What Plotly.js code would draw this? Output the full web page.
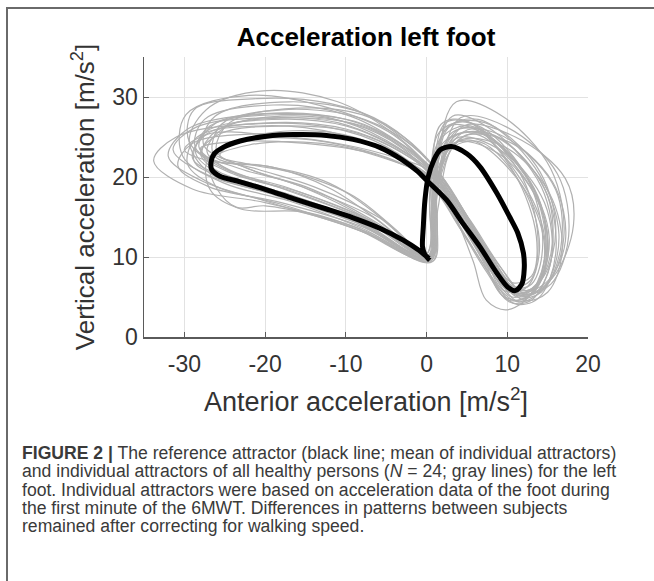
<!DOCTYPE html>
<html>
<head>
<meta charset="utf-8">
<script src="https://cdn.plot.ly/plotly-3.0.1.min.js"></script>
<style>
  html, body { margin: 0; padding: 0; background: #fff; }
  #wrap { position: relative; width: 654px; height: 581px; overflow: hidden; }
  #chart { position: absolute; left: 0; top: 0; width: 654px; height: 581px; }
  #frame { position: absolute; left: 6px; top: 7px; width: 660px; height: 590px;
           border-left: 2px solid #6a6a6a; border-top: 2px solid #6a6a6a; pointer-events: none; }
  #caption { position: absolute; left: 22px; top: 444px; width: 625px;
             font-family: 'Liberation Sans', Arial, Helvetica, sans-serif; font-size: 17.6px;
             line-height: 18.3px; color: #3a3a3a; white-space: nowrap; }
  #caption div { height: 18.3px; }
</style>
</head>
<body>
<div id="wrap">
  <div id="chart"></div>
  <div id="caption"></div>
  <div id="frame"></div>
</div>
<script>
// ---- Data ----
const xTickVals = [-30, -20, -10, 0, 10, 20];
const yTickVals = [0, 10, 20, 30];

// Reference attractor (mean), [anterior, vertical] in m/s^2
const referenceAttractor = [[0.3,9.8],[-0.9,10.8],[-2.9,12.1],[-5.8,13.6],[-9.1,14.9],[-12.4,16.0],[-16.5,17.3],[-19.8,18.4],[-23.1,19.4],[-25.6,20.1],[-26.6,20.9],[-26.7,21.8],[-26.3,22.9],[-25.2,23.7],[-23.1,24.5],[-19.8,25.1],[-16.5,25.3],[-12.4,25.2],[-9.1,24.7],[-5.8,23.7],[-3.1,22.2],[-1.1,20.7],[0.0,19.6],[2.5,17.1],[4.5,14.2],[6.6,11.3],[8.7,8.0],[10.1,6.2],[11.0,5.8],[11.8,6.6],[12.1,8.5],[12.0,10.5],[11.3,13.0],[10.3,15.0],[8.7,18.0],[6.6,21.3],[5.0,22.9],[3.1,23.8],[1.7,23.4],[0.9,22.1],[0.2,20.0],[-0.2,17.1],[-0.4,13.8],[-0.5,11.3],[-0.2,10.3],[0.4,9.6]];

// Individual attractors of the 24 healthy subjects
const s01 = [[0.2,9.8],[-8,13.6],[-17,17.0],[-25,19.2],[-30.2,22.6],[-29.8,27.8],[-22,30.2],[-12,28.6],[-4,25.2],[0.8,20.4],[4.2,14.6],[7.8,8.6],[10.6,5.0],[13.6,6.4],[15.2,12.4],[12.2,20.2],[5.4,26.4],[1.6,24.6],[0.4,17],[0.2,9.8]];
const s02 = [[0.5,9.5],[-9,13.8],[-20,16.8],[-29,18.5],[-33.8,22],[-31,25],[-22,26.6],[-12,26.2],[-5,23.8],[0.5,19.5],[3.8,14.2],[7.4,8.2],[10.2,4.6],[13.2,5.6],[15,11.6],[12.8,19.4],[6.2,25.6],[2,24.2],[0.6,16.5],[0.5,9.5]];
const s03 = [[-0.2,10.2],[-7,14.6],[-16,18.2],[-24,20.4],[-27.8,22.8],[-26,25.8],[-18,27.6],[-9,26.6],[-3,23.6],[1.5,19],[4.8,13.8],[8.6,7.8],[11.4,4.4],[14.6,6.2],[16.4,12.8],[13.4,21.2],[6.4,27.2],[2.2,25.8],[0.8,17.2],[-0.2,10.2]];
const s04 = [[0.6,9.6],[-6,14.2],[-15,18.8],[-23,21],[-28.6,23.6],[-27.5,27.2],[-19,29],[-10,27.8],[-3.5,24.4],[1.2,20.4],[4.4,15.6],[7.2,10],[9.6,5.8],[12.4,6.2],[14,11.2],[12,18.6],[6.6,24.4],[2.6,23.2],[1,16],[0.6,9.6]];
const s05 = [[0.1,10],[-8,14.2],[-18,17.6],[-27,20.2],[-31.4,23.4],[-28.6,26.2],[-20,27.4],[-11,26.8],[-4.2,24],[0.4,20.8],[3.6,16.2],[7,10.8],[10.8,5.6],[14.8,6.8],[17.2,12],[15.6,19.4],[8.8,25.4],[3.2,25.6],[1.2,18],[0.1,10]];
const s06 = [[0.4,9.9],[-4,13.6],[-9,17.6],[-16,20.4],[-22,21.6],[-25.6,22.6],[-23.6,24.4],[-16,24.8],[-8,23.4],[-2.5,21.4],[1.6,18.4],[5,13],[8.4,7.6],[11,5.4],[13.6,6.6],[14.6,11.6],[11.8,19],[5.4,24.6],[1.8,23],[0.6,15.6],[0.4,9.9]];
const s07 = [[0.3,10.3],[-9,14.4],[-19,17.8],[-27,20.6],[-29.4,24.6],[-26.8,28.8],[-19.8,30.8],[-11,29.4],[-4.6,25.8],[0.2,21.4],[3.4,16.4],[6.8,10.4],[9.4,5.2],[12.2,4.8],[14.6,9.6],[13.8,17.6],[8,24.8],[3,26.4],[1,18.6],[0.3,10.3]];
const s08 = [[0.2,9.6],[-7,13],[-15,15.6],[-23,16],[-26.8,18.4],[-27,22.4],[-21,25.2],[-12,25.6],[-5,23.4],[0.8,19.2],[4.4,13.4],[8,7.6],[10.8,4.2],[13.8,4.8],[16,10.4],[14.6,18.6],[8.4,25.2],[3.4,25],[1.2,17],[0.2,9.6]];
const s09 = [[0.5,10.1],[-6,15],[-14,18.8],[-21,21],[-26.4,22.8],[-25.4,26.6],[-18,28.4],[-9,27.6],[-3,24.8],[1.8,20.2],[5.2,14.8],[8.2,9.4],[10.4,6.2],[13,6.6],[14.4,11.8],[12.4,20],[6.8,26.2],[2.4,26.8],[0.8,18.8],[0.5,10.1]];
const s10 = [[0.2,10],[-8,14.4],[-17,17.8],[-25,20],[-29,22.4],[-27.2,25.4],[-19,26.8],[-10,26],[-3.6,23.4],[1.4,19.6],[5,14],[8.6,8.4],[11.8,5.2],[15.6,7.4],[18.2,14],[17.2,19.8],[11,25],[4.6,26.4],[1.4,19.4],[0.2,10]];
const s11 = [[0.7,9.4],[-8,13.2],[-18,16.6],[-26,18.8],[-29.6,21.6],[-28.4,25],[-20,26.4],[-11,25.4],[-4.4,22.8],[0.6,19],[4,13.8],[7.6,8.2],[10.2,4.4],[13,4.6],[15.4,9.4],[14.6,16.8],[9.4,23.2],[3.6,24.8],[1,16.4],[0.7,9.4]];
const s12 = [[0,10.4],[-7,15.2],[-16,19],[-23,21.4],[-27.6,24],[-26.2,27.6],[-17,29.4],[-8,28],[-2.6,24.6],[1,21.2],[4.2,16.2],[7.4,10.6],[10,6.4],[12.8,7],[13.8,12.4],[11.4,20.8],[5.2,26.8],[1.6,25.6],[0.4,18],[0,10.4]];
const s13 = [[0.4,9.8],[-9,13.6],[-20,17],[-28,19.6],[-32,22.6],[-29.6,26],[-21,27.8],[-12,27.4],[-5,24.6],[0.2,20.6],[3.4,15.6],[6.6,10.2],[9,6],[11.6,4.4],[14.2,7.4],[14.8,14],[11,21.4],[5.4,25.4],[1.4,20.2],[0.4,9.8]];
const s14 = [[0.6,10],[-7,14.4],[-16,18],[-24,20.6],[-27.2,23.2],[-25,26.2],[-17,27.4],[-8,26.4],[-2.8,23.6],[1.4,20],[5,14.8],[8.8,8.8],[11.6,5.4],[14.8,6.4],[17,12.4],[15.4,21],[9.4,27.6],[3.7,29.4],[1.2,21],[0.6,10]];
const s15 = [[0.2,10.1],[-8,14.8],[-18,18.6],[-25,21.2],[-28.2,23.8],[-26,26.8],[-18.6,28],[-10,27.2],[-4,24.6],[0.8,20.6],[4.6,15],[8,9.6],[10.6,6.4],[13.2,6],[15.4,10.4],[15,17.6],[10.2,24],[4,26],[1,18.6],[0.2,10.1]];
const s16 = [[0.3,9.7],[-5,14.4],[-12,19.2],[-20,21.4],[-27,22.2],[-28,23.6],[-24,24.4],[-15,24.2],[-7,23],[-1.6,21],[1.6,19.8],[5.4,14.6],[9,9],[11.6,5.8],[14,6.8],[14.8,12],[12.6,19.8],[7,25.4],[2.6,24.6],[0.8,16.8],[0.3,9.7]];
const s17 = [[0.5,10],[-8,14],[-17,17.4],[-25,19.8],[-28.8,22],[-27.4,25.6],[-19,27.2],[-10,26.4],[-4,23.8],[1,20.2],[3.6,15],[5.8,9.4],[7.4,4.6],[10,3.4],[13.6,6.2],[14.6,12.6],[11.2,20.4],[5.6,26],[1.6,21.6],[0.5,10]];
const s18 = [[0.1,9.9],[-9,14.6],[-19,18.4],[-26,20.8],[-28,23],[-25.6,25.4],[-17,26.4],[-9,25.6],[-3,23],[1.2,19.8],[4.6,14.6],[8.2,9],[11.2,5],[14.2,5.6],[16.6,11],[16,18.4],[10.6,24.2],[4.4,25],[1,17.4],[0.1,9.9]];
const s19 = [[0.4,10.2],[-8,15],[-17,18.6],[-25,21],[-29.4,24.4],[-28.8,28.4],[-21,29.8],[-12,29.2],[-5,26.6],[0.4,21.8],[4,16],[7.6,10],[10.4,5.6],[13.4,5.4],[15.6,10.6],[14.2,18.8],[8.2,25.8],[3.2,27.6],[1,19.8],[0.4,10.2]];
const s20 = [[0.8,9.5],[-7,12.8],[-14,15.2],[-20,16.4],[-23.5,16.2],[-26,18.6],[-26.8,22],[-22,24],[-13,24.2],[-6,22.6],[2,19],[5.6,13.6],[9.2,8],[12,4.6],[15,5.6],[16.8,10.8],[15.2,18],[9.6,23.8],[3.8,24.4],[1.4,16],[0.8,9.5]];
const s21 = [[0.2,10],[-7,14.6],[-15,18.6],[-22,21],[-26,23.2],[-24.4,26.8],[-16,28.6],[-8,27.8],[-2.8,25],[1.2,21],[4.6,15.8],[8,10.2],[10.6,6.8],[13,7.6],[13.6,12.6],[10.8,20.6],[5,27],[1.8,26.6],[0.6,18.6],[0.2,10]];
const s22 = [[0.5,9.8],[-8,13.8],[-18,16.8],[-27,18.8],[-30.8,21.4],[-29,24.2],[-21,25.4],[-12,25.2],[-5,23.2],[0.8,19.8],[4.8,14.2],[8.6,8.4],[11.4,5.4],[14.4,7.4],[16,13.8],[13.6,21.4],[7.2,26.8],[2.6,26.2],[0.8,17.6],[0.5,9.8]];
const s23 = [[0.1,10.1],[-6,14.6],[-12,18.6],[-19,21.2],[-27,22],[-30,23.4],[-27,25.4],[-19,25.2],[-10,24],[-3.8,22.4],[0.6,20.6],[3.8,15.4],[7.2,9.6],[10,5.8],[12.8,5.2],[15,9.8],[13.8,17],[8.8,23],[3.4,24.2],[0.8,16.2],[0.1,10.1]];
const s24 = [[0.6,9.9],[-8,14.2],[-17,17.8],[-25,20],[-28.6,23],[-26.8,26.4],[-18,27.8],[-9,27],[-3.2,24.2],[1.6,20.2],[5.4,14.4],[9.4,8.4],[12.2,5.4],[15.4,6.6],[17.6,12.6],[16.2,20.4],[10,26.2],[4.2,27.4],[1.4,19.2],[0.6,9.9]];
const subjects = [s01,s02,s03,s04,s05,s06,s07,s08,s09,s10,s11,s12,s13,s14,s15,s16,s17,s18,s19,s20,s21,s22,s23,s24];

const captionLines = [
  '<b>FIGURE 2 |</b> The reference attractor (black line; mean of individual attractors)',
  'and individual attractors of all healthy persons (<i>N</i> = 24; gray lines) for the left',
  'foot. Individual attractors were based on acceleration data of the foot during',
  'the first minute of the 6MWT. Differences in patterns between subjects',
  'remained after correcting for walking speed.'
];

// ---- Build the figure ----
const FONT = 'Liberation Sans, Arial, Helvetica, sans-serif';
const traces = subjects.map((pts, i) => ({
  type: 'scatter', mode: 'lines', name: 'Subject ' + (i + 1),
  x: pts.map(p => p[0]), y: pts.map(p => p[1]),
  line: { color: '#b0b0b0', width: 1.2, shape: 'spline', smoothing: 1 },
  hoverinfo: 'skip', showlegend: false
}));
traces.push({
  type: 'scatter', mode: 'lines', name: 'Reference attractor',
  x: referenceAttractor.map(p => p[0]), y: referenceAttractor.map(p => p[1]),
  line: { color: '#000000', width: 5, shape: 'spline', smoothing: 0.8 },
  showlegend: false
});

const W = 654, H = 581;
const mL = 144, mR = 66, mT = 57, mB = 244;

const axisCommon = {
  showgrid: true, gridcolor: '#e2e2e2', gridwidth: 1,
  zeroline: false, showline: true, linecolor: '#5a5a5a', linewidth: 1.5,
  ticks: 'inside', ticklen: 5, tickwidth: 1, tickcolor: '#5a5a5a',
  tickfont: { family: FONT, size: 23, color: '#333333' },
  mirror: false, fixedrange: true
};

const layout = {
  width: W, height: H,
  margin: { l: mL, r: mR, t: mT, b: mB, pad: 0 },
  paper_bgcolor: '#ffffff', plot_bgcolor: '#ffffff',
  showlegend: false,
  title: {
    text: '<b>Acceleration left foot</b>',
    font: { family: FONT, size: 26, color: '#000000' },
    x: 0.5, xref: 'paper', xanchor: 'center',
    y: 1 - 37 / H, yref: 'container', yanchor: 'middle'
  },
  xaxis: Object.assign({}, axisCommon, {
    range: [-35, 20], tickvals: xTickVals, ticktext: xTickVals.map(String),
    ticklabelstandoff: 6,
    title: { text: 'Anterior acceleration [m/s<sup>2</sup>]', font: { family: FONT, size: 27, color: '#333333' }, standoff: 16 }
  }),
  yaxis: Object.assign({}, axisCommon, {
    range: [0, 35], tickvals: yTickVals, ticktext: yTickVals.map(String),
    title: { text: 'Vertical acceleration [m/s<sup>2</sup>]', font: { family: FONT, size: 26, color: '#333333' }, standoff: 10 }
  })
};

Plotly.newPlot('chart', traces, layout, { displayModeBar: false, staticPlot: true });

// Figure caption below the chart
const cap = document.getElementById('caption');
captionLines.forEach(t => { const d = document.createElement('div'); d.innerHTML = t; cap.appendChild(d); });
</script>
</body>
</html>
